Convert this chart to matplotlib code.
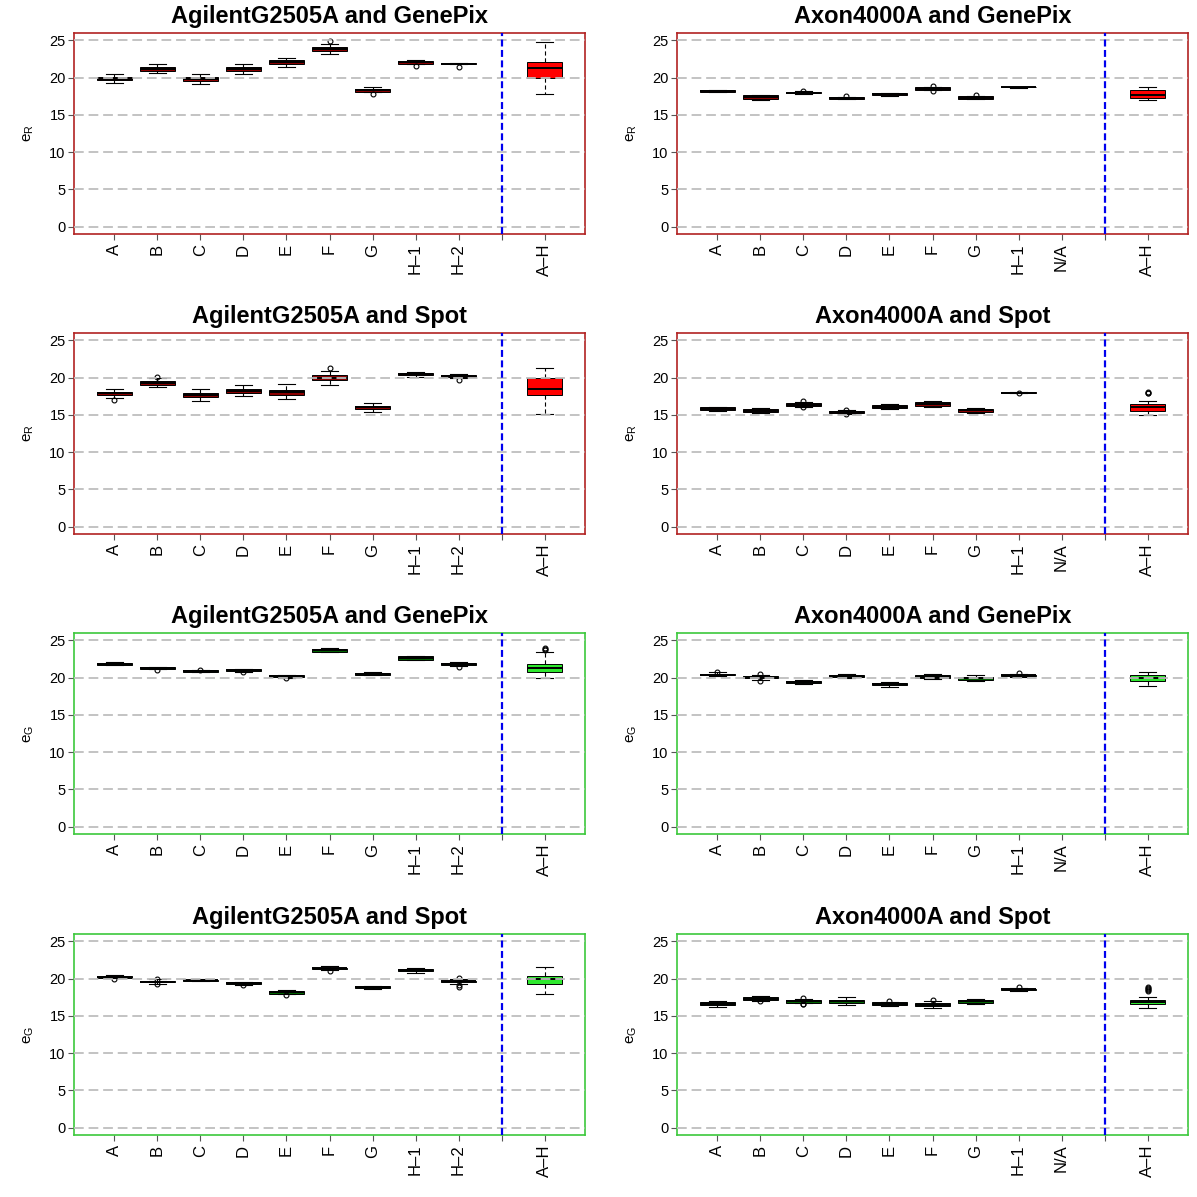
import matplotlib
matplotlib.use('Agg')
import matplotlib.pyplot as plt

plt.rcParams['font.family'] = ['Liberation Sans', 'DejaVu Sans']
plt.rcParams['mathtext.default'] = 'regular'
plt.rcParams['lines.scale_dashes'] = False

labels_agilent = ['A', 'B', 'C', 'D', 'E', 'F', 'G', 'H–1', 'H–2', '', 'A–H']
labels_axon = ['A', 'B', 'C', 'D', 'E', 'F', 'G', 'H–1', 'N/A', '', 'A–H']

# box stats per slot: (whisker low, Q1, median, Q3, whisker high), None = no box
ag_gp_r = [(19.25, 19.65, 19.8, 20.05, 20.5), (20.66, 20.93, 21.2, 21.46, 21.77),
           (19.16, 19.6, 19.87, 20.09, 20.53), (20.53, 20.84, 21.1, 21.37, 21.77),
           (21.46, 21.77, 22.08, 22.35, 22.65), (23.14, 23.54, 23.8, 24.07, 24.56),
           (18.05, 18.14, 18.36, 18.54, 18.8), (21.9, 21.9, 22.08, 22.26, 22.35),
           (21.8, 21.81, 21.9, 21.99, 22.0), None,
           (17.74, 19.91, 21.33, 22.04, 24.78)]
ag_gp_r_out = [[], [], [], [], [], [24.9], [17.74], [21.6], [21.5], [], []]

ax_gp_r = [(18.05, 18.1, 18.23, 18.36, 18.4), (17.04, 17.12, 17.4, 17.65, 17.7),
           (17.83, 17.88, 18.0, 18.14, 18.16), (17.08, 17.12, 17.26, 17.39, 17.43),
           (17.6, 17.65, 17.8, 17.96, 18.0), (18.32, 18.36, 18.54, 18.72, 18.76),
           (17.1, 17.17, 17.3, 17.48, 17.5), (18.66, 18.68, 18.72, 18.76, 18.78),
           None, None,
           (17.04, 17.3, 17.7, 18.32, 18.8)]
ax_gp_r_out = [[], [], [18.22], [17.48], [], [18.85, 18.27], [17.61], [], [], [], []]

ag_sp_r = [(17.26, 17.65, 17.92, 18.14, 18.5), (18.7, 18.98, 19.25, 19.56, 19.9),
           (16.8, 17.35, 17.65, 18.0, 18.5), (17.52, 17.96, 18.27, 18.54, 18.98),
           (17.17, 17.7, 18.05, 18.36, 19.16), (19.03, 19.65, 20.0, 20.31, 20.93),
           (15.35, 15.8, 16.02, 16.24, 16.6), (20.13, 20.31, 20.49, 20.66, 20.75),
           (19.9, 20.04, 20.22, 20.35, 20.49), None,
           (15.18, 17.7, 18.45, 20.0, 21.24)]
ag_sp_r_out = [[17.04], [20.1], [], [], [], [21.24], [], [], [19.7], [], []]

ax_sp_r = [(15.5, 15.6, 15.8, 16.0, 16.1), (15.2, 15.35, 15.58, 15.84, 15.95),
           (16.12, 16.2, 16.37, 16.6, 16.7), (15.15, 15.22, 15.4, 15.57, 15.6),
           (15.8, 15.88, 16.1, 16.33, 16.4), (16.1, 16.2, 16.46, 16.72, 16.8),
           (15.3, 15.4, 15.6, 15.84, 15.95), (17.95, 17.97, 18.0, 18.05, 18.08),
           None, None,
           (15.04, 15.53, 16.06, 16.5, 16.86)]
ax_sp_r_out = [[], [], [16.86, 16.03], [15.7, 15.08], [], [], [], [17.9], [], [],
               [17.95, 18.0, 18.05]]

ag_gp_g = [(21.7, 21.73, 21.86, 22.0, 22.05), (21.15, 21.2, 21.28, 21.42, 21.45),
           (20.7, 20.75, 20.84, 20.97, 21.0), (20.82, 20.88, 21.0, 21.1, 21.13),
           (20.0, 20.09, 20.22, 20.35, 20.4), (23.4, 23.5, 23.72, 23.9, 24.0),
           (20.35, 20.4, 20.53, 20.66, 20.7), (22.35, 22.43, 22.65, 22.88, 22.95),
           (21.55, 21.64, 21.8, 22.0, 22.1), None,
           (20.0, 20.8, 21.28, 21.86, 23.5)]
ag_gp_g_out = [[], [21.06], [21.06], [20.7], [19.9], [], [], [], [21.42], [],
               [23.75, 23.85, 23.95]]

ax_gp_g = [(20.2, 20.3, 20.42, 20.55, 20.7), (19.75, 19.9, 20.0, 20.2, 20.4),
           (19.15, 19.25, 19.4, 19.55, 19.65), (19.95, 20.05, 20.2, 20.35, 20.5),
           (18.8, 18.95, 19.15, 19.3, 19.4), (19.8, 19.95, 20.1, 20.3, 20.5),
           (19.5, 19.7, 19.9, 20.05, 20.3), (20.1, 20.2, 20.3, 20.4, 20.5),
           None, None,
           (18.9, 19.5, 20.0, 20.4, 20.8)]
ax_gp_g_out = [[20.75], [20.5, 19.6], [], [], [], [], [], [20.6], [], [], []]

ag_sp_g = [(20.05, 20.15, 20.25, 20.35, 20.45), (19.35, 19.5, 19.6, 19.75, 19.9),
           (19.65, 19.7, 19.78, 19.85, 19.9), (19.2, 19.3, 19.4, 19.5, 19.6),
           (17.9, 18.0, 18.15, 18.3, 18.45), (21.1, 21.25, 21.4, 21.5, 21.65),
           (18.65, 18.75, 18.85, 18.95, 19.05), (20.8, 21.0, 21.15, 21.3, 21.5),
           (19.3, 19.5, 19.65, 19.75, 20.0), None,
           (17.9, 19.3, 19.9, 20.35, 21.6)]
ag_sp_g_out = [[20.0], [19.95, 19.3], [], [19.1], [17.85], [21.0], [], [],
               [20.15, 19.1, 18.9], [], []]

ax_sp_g = [(16.15, 16.42, 16.64, 16.9, 17.04), (17.0, 17.12, 17.3, 17.52, 17.65),
           (16.7, 16.77, 16.99, 17.2, 17.3), (16.5, 16.77, 16.99, 17.2, 17.48),
           (16.33, 16.46, 16.64, 16.8, 16.9), (16.1, 16.28, 16.5, 16.72, 16.95),
           (16.6, 16.77, 16.95, 17.12, 17.3), (18.4, 18.45, 18.58, 18.67, 18.72),
           None, None,
           (16.1, 16.6, 16.9, 17.2, 17.57)]
ax_sp_g_out = [[], [16.95], [17.43, 16.6, 16.55], [], [17.04], [17.17], [], [18.85],
               [], [], [18.3, 18.45, 18.6, 18.75, 18.9]]

red = dict(frame='#B22222', lab='#8B0000', pooled='#FF0000', ylab='$e_R$')
green = dict(frame='#3CC83C', lab='#006400', pooled='#2EE82E', ylab='$e_G$')

panels = [
    ('AgilentG2505A and GenePix', ag_gp_r, ag_gp_r_out, labels_agilent, red),
    ('Axon4000A and GenePix', ax_gp_r, ax_gp_r_out, labels_axon, red),
    ('AgilentG2505A and Spot', ag_sp_r, ag_sp_r_out, labels_agilent, red),
    ('Axon4000A and Spot', ax_sp_r, ax_sp_r_out, labels_axon, red),
    ('AgilentG2505A and GenePix', ag_gp_g, ag_gp_g_out, labels_agilent, green),
    ('Axon4000A and GenePix', ax_gp_g, ax_gp_g_out, labels_axon, green),
    ('AgilentG2505A and Spot', ag_sp_g, ag_sp_g_out, labels_agilent, green),
    ('Axon4000A and Spot', ax_sp_g, ax_sp_g_out, labels_axon, green),
]

W = 1197.0
fig = plt.figure(figsize=(11.97, 11.97), dpi=100)
col_x = [74, 677]
row_top = [33, 333, 633, 934]

for k, (title, boxes, outs, labels, sty) in enumerate(panels):
    r, c = divmod(k, 2)
    ax = fig.add_axes([col_x[c] / W, 1 - (row_top[r] + 201) / W, 511 / W, 201 / W])

    stats, pos, cols = [], [], []
    for i, b in enumerate(boxes):
        if b is None:
            continue
        lo, q1, med, q3, hi = b
        stats.append(dict(whislo=lo, q1=q1, med=med, q3=q3, whishi=hi, fliers=outs[i]))
        pos.append(i + 1)
        cols.append(sty['pooled'] if i == 10 else sty['lab'])

    bp = ax.bxp(stats, positions=pos, widths=0.8, capwidths=0.4, patch_artist=True,
                manage_ticks=False,
                boxprops=dict(edgecolor='black', linewidth=0.7),
                medianprops=dict(color='black', linewidth=1.4),
                whiskerprops=dict(color='black', linewidth=0.8, linestyle=(0, (3, 2))),
                capprops=dict(color='black', linewidth=0.8),
                flierprops=dict(marker='o', markersize=3.5, markerfacecolor='none',
                                markeredgecolor='black', markeredgewidth=0.8))
    for patch, col in zip(bp['boxes'], cols):
        patch.set_facecolor(col)

    # grid drawn over the boxes, as in the original
    for v in range(0, 26, 5):
        ax.axhline(v, color='#BEBEBE', linewidth=1.3, linestyle=(0, (7, 3.5)), zorder=5)
    ax.axvline(10, color='#0000EE', linewidth=1.6, linestyle=(0, (5, 2.5)), zorder=6)

    ax.set_xlim(0.06, 11.94)
    ax.set_ylim(-1, 26)
    ax.set_xticks(range(1, 12))
    ax.set_xticklabels(labels, rotation=90, fontsize=12)
    ax.set_yticks(range(0, 26, 5))
    ax.tick_params(axis='y', labelsize=10.5, length=4, color='#555555', pad=2)
    ax.tick_params(axis='x', length=4, color='#555555', pad=3)
    for s in ax.spines.values():
        s.set_color(sty['frame'])
        s.set_linewidth(1.2)

    ax.set_title(title, fontsize=17, fontweight='bold', pad=7)
    ax.set_ylabel(sty['ylab'], fontsize=11)
    ax.yaxis.set_label_coords(-0.075, 0.5)

fig.savefig('out.png', dpi=100)
